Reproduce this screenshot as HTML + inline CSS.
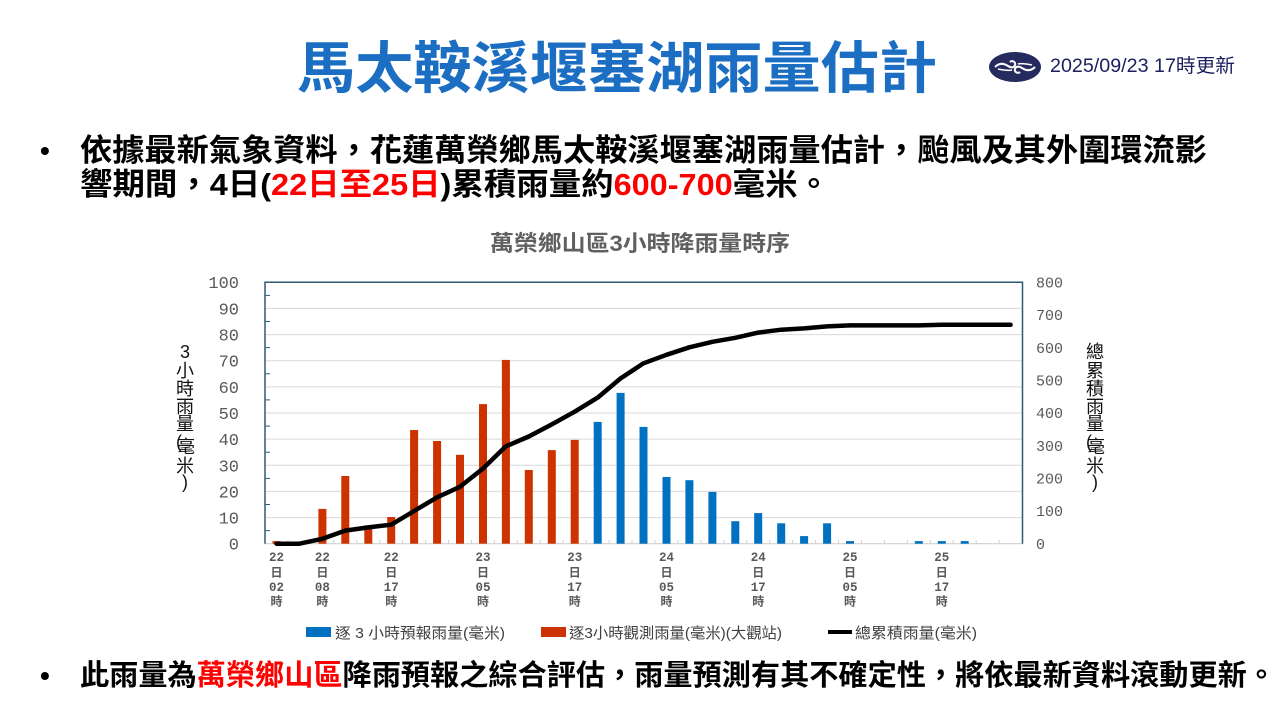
<!DOCTYPE html>
<html><head><meta charset="utf-8">
<style>
html,body{margin:0;padding:0;background:#fff;}
body{width:1280px;height:720px;overflow:hidden;}
svg{display:block;}
.sans{font-family:"Liberation Sans","Noto Sans CJK TC","Noto Sans CJK SC",sans-serif;}
.mono{font-family:"Liberation Mono","Noto Sans CJK TC",monospace;}
</style></head>
<body>
<svg width="1280" height="720" viewBox="0 0 1280 720" xmlns="http://www.w3.org/2000/svg">
<rect width="1280" height="720" fill="#fff"/>

<!-- Title -->
<text class="sans" x="297" y="88" font-size="56" font-weight="bold" fill="#1b6ec2" textLength="640" lengthAdjust="spacingAndGlyphs">馬太鞍溪堰塞湖雨量估計</text>

<!-- Logo -->
<ellipse cx="1015" cy="67" rx="26" ry="15" fill="#262b5f"/>
<path d="M995 67 C1000 62 1005 64 1008 66 C1011 68 1014 68 1015 65 C1016 62 1012 60 1010 62" stroke="#fff" stroke-width="2" fill="none"/>
<path d="M1035 67 C1030 72 1025 70 1022 68 C1019 66 1016 66 1015 69 C1014 72 1018 74 1020 72" stroke="#fff" stroke-width="2" fill="none"/>
<path d="M998 69 C1003 70 1008 71 1012 70" stroke="#fff" stroke-width="1.5" fill="none"/>
<path d="M1032 65 C1027 64 1022 63 1018 64" stroke="#fff" stroke-width="1.5" fill="none"/>
<text class="sans" x="1050" y="72" font-size="19" fill="#1c1f5e" textLength="185" lengthAdjust="spacingAndGlyphs">2025/09/23 17時更新</text>

<!-- Bullet 1 -->
<text class="sans" x="40" y="160" font-size="28" font-weight="bold" fill="#000">•</text>
<text class="sans" x="80" y="161" font-size="31" font-weight="bold" fill="#000" textLength="1127" lengthAdjust="spacingAndGlyphs">依據最新氣象資料，花蓮萬榮鄉馬太鞍溪堰塞湖雨量估計，颱風及其外圍環流影</text>
<text class="sans" x="80" y="195" font-size="31" font-weight="bold" fill="#000" textLength="750" lengthAdjust="spacingAndGlyphs">響期間，4日(<tspan fill="#ff0000">22日至25日</tspan>)累積雨量約<tspan fill="#ff0000">600-700</tspan>毫米。</text>

<!-- Bullet 2 -->
<text class="sans" x="40" y="685" font-size="28" font-weight="bold" fill="#000">•</text>
<text class="sans" x="80" y="685" font-size="29" font-weight="bold" fill="#000" textLength="1196" lengthAdjust="spacingAndGlyphs">此雨量為<tspan fill="#ff0000">萬榮鄉山區</tspan>降雨預報之綜合評估，雨量預測有其不確定性，將依最新資料滾動更新。</text>

<!-- Chart title -->
<text class="sans" x="490" y="251" font-size="22" font-weight="bold" fill="#606060" textLength="300" lengthAdjust="spacingAndGlyphs">萬榮鄉山區3小時降雨量時序</text>

<!-- Gridlines -->
<g stroke="#d9d9d9" stroke-width="1">
<line x1="265" y1="308.4" x2="1022" y2="308.4"/>
<line x1="265" y1="334.6" x2="1022" y2="334.6"/>
<line x1="265" y1="360.7" x2="1022" y2="360.7"/>
<line x1="265" y1="386.9" x2="1022" y2="386.9"/>
<line x1="265" y1="413.0" x2="1022" y2="413.0"/>
<line x1="265" y1="439.1" x2="1022" y2="439.1"/>
<line x1="265" y1="465.3" x2="1022" y2="465.3"/>
<line x1="265" y1="491.4" x2="1022" y2="491.4"/>
<line x1="265" y1="517.6" x2="1022" y2="517.6"/>
</g>
<!-- bottom axis -->
<line x1="265" y1="543.7" x2="1022.5" y2="543.7" stroke="#d0d0d0" stroke-width="1.2"/>
<g stroke="#d0d0d0" stroke-width="1">
<line x1="288" y1="540" x2="288" y2="544"/><line x1="310.9" y1="540" x2="310.9" y2="544"/><line x1="333.8" y1="540" x2="333.8" y2="544"/><line x1="356.8" y1="540" x2="356.8" y2="544"/><line x1="379.7" y1="540" x2="379.7" y2="544"/><line x1="402.6" y1="540" x2="402.6" y2="544"/><line x1="425.6" y1="540" x2="425.6" y2="544"/><line x1="448.5" y1="540" x2="448.5" y2="544"/><line x1="471.5" y1="540" x2="471.5" y2="544"/><line x1="494.4" y1="540" x2="494.4" y2="544"/><line x1="517.3" y1="540" x2="517.3" y2="544"/><line x1="540.3" y1="540" x2="540.3" y2="544"/><line x1="563.2" y1="540" x2="563.2" y2="544"/><line x1="586.2" y1="540" x2="586.2" y2="544"/><line x1="609.1" y1="540" x2="609.1" y2="544"/><line x1="632" y1="540" x2="632" y2="544"/><line x1="655" y1="540" x2="655" y2="544"/><line x1="677.9" y1="540" x2="677.9" y2="544"/><line x1="700.9" y1="540" x2="700.9" y2="544"/><line x1="723.8" y1="540" x2="723.8" y2="544"/><line x1="746.7" y1="540" x2="746.7" y2="544"/><line x1="769.7" y1="540" x2="769.7" y2="544"/><line x1="792.6" y1="540" x2="792.6" y2="544"/><line x1="815.6" y1="540" x2="815.6" y2="544"/><line x1="838.5" y1="540" x2="838.5" y2="544"/><line x1="861.4" y1="540" x2="861.4" y2="544"/><line x1="884.4" y1="540" x2="884.4" y2="544"/><line x1="907.3" y1="540" x2="907.3" y2="544"/><line x1="930.3" y1="540" x2="930.3" y2="544"/><line x1="953.2" y1="540" x2="953.2" y2="544"/><line x1="976.1" y1="540" x2="976.1" y2="544"/><line x1="999.1" y1="540" x2="999.1" y2="544"/>
</g>

<!-- Frame -->
<polyline points="265,543.7 265,282.3 1022.5,282.3 1022.5,543.7" fill="none" stroke="#2e5a75" stroke-width="1.5"/>
<!-- left minor ticks -->
<g stroke="#2e5a75" stroke-width="1">
<line x1="265" y1="295.4" x2="270" y2="295.4"/><line x1="265" y1="321.5" x2="270" y2="321.5"/><line x1="265" y1="347.6" x2="270" y2="347.6"/><line x1="265" y1="373.8" x2="270" y2="373.8"/><line x1="265" y1="399.9" x2="270" y2="399.9"/><line x1="265" y1="426.1" x2="270" y2="426.1"/><line x1="265" y1="452.2" x2="270" y2="452.2"/><line x1="265" y1="478.4" x2="270" y2="478.4"/><line x1="265" y1="504.5" x2="270" y2="504.5"/><line x1="265" y1="530.6" x2="270" y2="530.6"/>
</g>

<!-- Red bars (observed) -->
<g fill="#cc3300">
<rect x="272.5" y="541.1" width="8" height="2.6"/>
<rect x="318.4" y="508.9" width="8" height="34.8"/>
<rect x="341.3" y="476.0" width="8" height="67.7"/>
<rect x="364.3" y="525.4" width="8" height="18.3"/>
<rect x="387.2" y="517.0" width="8" height="26.7"/>
<rect x="410.1" y="430.0" width="8" height="113.7"/>
<rect x="433.1" y="441.0" width="8" height="102.7"/>
<rect x="456.0" y="454.8" width="8" height="88.9"/>
<rect x="479.0" y="404.1" width="8" height="139.6"/>
<rect x="501.9" y="359.9" width="8" height="183.8"/>
<rect x="524.8" y="470.0" width="8" height="73.7"/>
<rect x="547.8" y="450.1" width="8" height="93.6"/>
<rect x="570.7" y="439.9" width="8" height="103.8"/>
</g>
<!-- Blue bars (forecast) -->
<g fill="#0070c0">
<rect x="593.7" y="421.9" width="8" height="121.8"/>
<rect x="616.6" y="392.9" width="8" height="150.8"/>
<rect x="639.5" y="426.9" width="8" height="116.8"/>
<rect x="662.5" y="477.0" width="8" height="66.7"/>
<rect x="685.4" y="480.2" width="8" height="63.5"/>
<rect x="708.4" y="491.9" width="8" height="51.8"/>
<rect x="731.3" y="521.2" width="8" height="22.5"/>
<rect x="754.2" y="513.1" width="8" height="30.6"/>
<rect x="777.2" y="523.3" width="8" height="20.4"/>
<rect x="800.1" y="536.1" width="8" height="7.6"/>
<rect x="823.1" y="523.3" width="8" height="20.4"/>
<rect x="846.0" y="541.1" width="8" height="2.6"/>
<rect x="914.8" y="541.1" width="8" height="2.6"/>
<rect x="937.8" y="541.1" width="8" height="2.6"/>
<rect x="960.7" y="541.1" width="8" height="2.6"/>
</g>

<!-- Cumulative line -->
<polyline fill="none" stroke="#000" stroke-width="4.5" stroke-linejoin="round" stroke-linecap="round"
points="276.5,543.7 299.4,543.7 322.4,538.8 345.3,530.6 368.3,527.4 391.2,524.7 414.1,511.0 437.1,497.3 460.0,486.8 483.0,468.5 505.9,446.3 528.8,436.5 551.8,424.4 574.7,411.7 597.7,397.6 620.6,378.4 643.5,363.3 666.5,354.8 689.4,347.3 712.4,341.8 735.3,337.8 758.2,332.6 781.2,329.7 804.1,328.4 827.1,326.4 850.0,325.4 872.9,325.4 895.9,325.4 918.8,325.4 941.8,324.8 964.7,324.8 987.6,324.8 1010.6,324.8"/>

<!-- Left y labels -->
<g class="mono" font-size="17" fill="#595959" text-anchor="end">
<text x="239" y="288">100</text>
<text x="239" y="314.4">90</text>
<text x="239" y="340.6">80</text>
<text x="239" y="366.7">70</text>
<text x="239" y="392.9">60</text>
<text x="239" y="419">50</text>
<text x="239" y="445.1">40</text>
<text x="239" y="471.3">30</text>
<text x="239" y="497.4">20</text>
<text x="239" y="523.6">10</text>
<text x="239" y="549.7">0</text>
</g>
<!-- Right y labels -->
<g class="mono" font-size="15" fill="#595959">
<text x="1036" y="287.5">800</text>
<text x="1036" y="320.2">700</text>
<text x="1036" y="352.9">600</text>
<text x="1036" y="385.6">500</text>
<text x="1036" y="418.2">400</text>
<text x="1036" y="450.9">300</text>
<text x="1036" y="483.6">200</text>
<text x="1036" y="516.2">100</text>
<text x="1036" y="548.9">0</text>
</g>

<!-- X labels -->
<g font-size="12.5" font-weight="bold" fill="#595959" text-anchor="middle">
<g class="mono">
<text x="276.5" y="561">22</text><text x="276.5" y="591">02</text>
<text x="322.4" y="561">22</text><text x="322.4" y="591">08</text>
<text x="391.2" y="561">22</text><text x="391.2" y="591">17</text>
<text x="483.0" y="561">23</text><text x="483.0" y="591">05</text>
<text x="574.7" y="561">23</text><text x="574.7" y="591">17</text>
<text x="666.5" y="561">24</text><text x="666.5" y="591">05</text>
<text x="758.2" y="561">24</text><text x="758.2" y="591">17</text>
<text x="850.0" y="561">25</text><text x="850.0" y="591">05</text>
<text x="941.8" y="561">25</text><text x="941.8" y="591">17</text>
</g>
<g class="sans" font-size="12">
<text x="276.5" y="576.5">日</text><text x="276.5" y="605.5">時</text>
<text x="322.4" y="576.5">日</text><text x="322.4" y="605.5">時</text>
<text x="391.2" y="576.5">日</text><text x="391.2" y="605.5">時</text>
<text x="483.0" y="576.5">日</text><text x="483.0" y="605.5">時</text>
<text x="574.7" y="576.5">日</text><text x="574.7" y="605.5">時</text>
<text x="666.5" y="576.5">日</text><text x="666.5" y="605.5">時</text>
<text x="758.2" y="576.5">日</text><text x="758.2" y="605.5">時</text>
<text x="850.0" y="576.5">日</text><text x="850.0" y="605.5">時</text>
<text x="941.8" y="576.5">日</text><text x="941.8" y="605.5">時</text>
</g>
</g>

<!-- Left axis title -->
<g class="sans" font-size="18" fill="#111" text-anchor="middle">
<text x="185" y="358">3</text>
<text x="185" y="377">小</text>
<text x="185" y="395">時</text>
<text x="185" y="413">雨</text>
<text x="185" y="430">量</text>
<text x="179" y="448">(</text>
<text x="186" y="453">毫</text>
<text x="185" y="472">米</text>
<text x="185" y="488">)</text>
</g>
<!-- Right axis title -->
<g class="sans" font-size="18" fill="#111" text-anchor="middle">
<text x="1095" y="358">總</text>
<text x="1095" y="377">累</text>
<text x="1095" y="395">積</text>
<text x="1095" y="413">雨</text>
<text x="1095" y="430">量</text>
<text x="1089" y="448">(</text>
<text x="1096" y="453">毫</text>
<text x="1095" y="472">米</text>
<text x="1095" y="488">)</text>
</g>

<!-- Legend -->
<rect x="306" y="627" width="25" height="10" fill="#0070c0"/>
<text class="sans" x="335" y="638" font-size="15" fill="#404040" textLength="170" lengthAdjust="spacingAndGlyphs">逐 3 小時預報雨量(毫米)</text>
<rect x="541" y="627" width="25" height="10" fill="#cc3300"/>
<text class="sans" x="569" y="638" font-size="15" fill="#404040" textLength="213" lengthAdjust="spacingAndGlyphs">逐3小時觀測雨量(毫米)(大觀站)</text>
<line x1="828" y1="632" x2="852" y2="632" stroke="#000" stroke-width="4"/>
<text class="sans" x="855" y="638" font-size="15" fill="#404040" textLength="122" lengthAdjust="spacingAndGlyphs">總累積雨量(毫米)</text>
</svg>
</body></html>
